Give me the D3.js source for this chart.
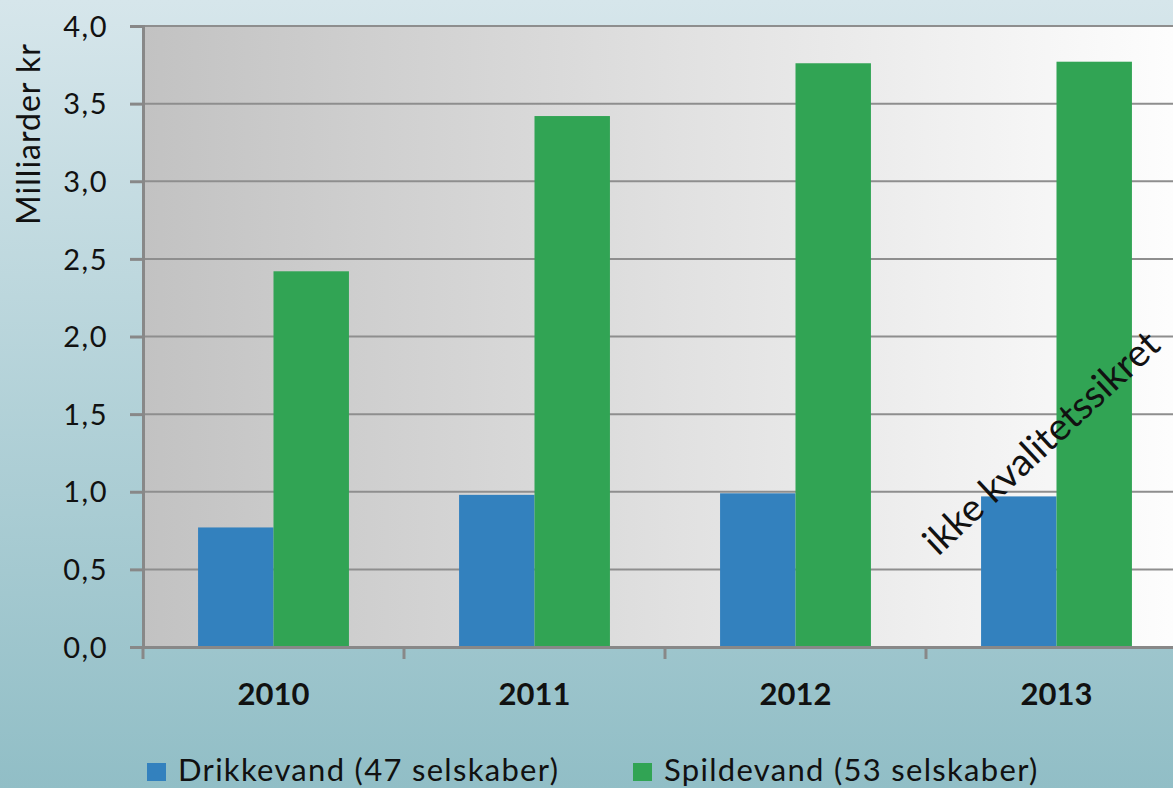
<!DOCTYPE html>
<html>
<head>
<meta charset="utf-8">
<script src="https://cdn.jsdelivr.net/npm/d3@7"></script>
<style>
  body { margin: 0; overflow: hidden; }
  text { font-family: Lato, "Open Sans", sans-serif; }
</style>
</head>
<body>
<svg id="chart" width="1173" height="788"></svg>
<script>
// data
const years = ['2010', '2011', '2012', '2013'];
const drikkevand = [0.77, 0.98, 0.99, 0.97];
const spildevand = [2.42, 3.42, 3.76, 3.77];
const seriesNames = ['Drikkevand (47 selskaber)', 'Spildevand (53 selskaber)'];
const yTicks = [0, 0.5, 1, 1.5, 2, 2.5, 3, 3.5, 4];

const colors = ['#3381be', '#31a454'];
const width = 1173, height = 788;
const margin = { left: 143, top: 26, bottom: 141 };
const plotRight = 1187; // plot runs slightly past the edge of the picture

const svg = d3.select('#chart');
const defs = svg.append('defs');

const bg = defs.append('linearGradient').attr('id', 'bg')
  .attr('x1', 0).attr('y1', 0).attr('x2', 0).attr('y2', 1);
bg.append('stop').attr('offset', '0%').attr('stop-color', '#d6e6eb');
bg.append('stop').attr('offset', '100%').attr('stop-color', '#91bec6');

const plotBg = defs.append('linearGradient').attr('id', 'plotbg')
  .attr('x1', 0).attr('y1', 0).attr('x2', 1).attr('y2', 0);
plotBg.append('stop').attr('offset', '0%').attr('stop-color', '#c2c2c2');
plotBg.append('stop').attr('offset', '100%').attr('stop-color', '#fefefe');

svg.append('rect').attr('width', width).attr('height', height).attr('fill', 'url(#bg)');

const x = d3.scaleBand().domain(years).range([margin.left, plotRight]);
const y = d3.scaleLinear().domain([0, 4]).range([height - margin.bottom, margin.top]);
const inner = d3.scaleBand().domain([0, 1]).range([0, x.bandwidth()]).paddingOuter(0.73).paddingInner(0);

svg.append('rect')
  .attr('x', margin.left).attr('y', y(4))
  .attr('width', plotRight - margin.left).attr('height', y(0) - y(4))
  .attr('fill', 'url(#plotbg)');

// gridlines
svg.append('g').selectAll('line').data(yTicks.filter(d => d > 0)).join('line')
  .attr('x1', margin.left).attr('x2', plotRight)
  .attr('y1', d => y(d)).attr('y2', d => y(d))
  .attr('stroke', '#8e8e8e').attr('stroke-width', 2);

// bars
const data = years.map((yr, i) => ({ yr, vals: [drikkevand[i], spildevand[i]] }));
const groups = svg.append('g').selectAll('g').data(data).join('g')
  .attr('transform', d => `translate(${x(d.yr)},0)`);
groups.selectAll('rect').data(d => d.vals.map((v, k) => ({ v, k }))).join('rect')
  .attr('x', d => inner(d.k))
  .attr('width', inner.bandwidth())
  .attr('y', d => y(d.v))
  .attr('height', d => y(0) - y(d.v))
  .attr('fill', d => colors[d.k]);

// y axis
const yAxis = d3.axisLeft(y).tickValues(yTicks).tickSize(13)
  .tickFormat(d => d3.format('.1f')(d).replace('.', ','));
const gy = svg.append('g').attr('transform', `translate(${margin.left},0)`).call(yAxis);
gy.select('.domain').attr('stroke', '#888').attr('stroke-width', 3);
gy.selectAll('.tick line').attr('stroke', '#888').attr('stroke-width', 3);
gy.selectAll('.tick text').attr('x', -35).attr('dy', '0.35em')
  .attr('font-size', 29).attr('fill', '#111').style('letter-spacing', '1.5px')
  .style('font-family', 'Lato, sans-serif');

// x axis
const xAxis = d3.axisBottom(x).tickSize(0).tickFormat(d => d);
const gx = svg.append('g').attr('transform', `translate(0,${y(0)})`).call(xAxis);
gx.select('.domain').attr('stroke', '#888').attr('stroke-width', 3);
gx.selectAll('.tick text').attr('y', 58).attr('dy', 0)
  .attr('font-size', 31).attr('font-weight', 'bold').attr('fill', '#111')
  .style('font-family', 'Lato, sans-serif');
// category separator ticks
gx.append('g').selectAll('line').data(years.map(d => x(d))).join('line')
  .attr('x1', d => d).attr('x2', d => d).attr('y1', 0).attr('y2', 12)
  .attr('stroke', '#888').attr('stroke-width', 3);

// y title
svg.append('text')
  .attr('transform', 'translate(40,134) rotate(-90)')
  .attr('text-anchor', 'middle')
  .attr('font-size', 32).attr('fill', '#111').style('letter-spacing', '1px')
  .text('Milliarder kr');

// annotation
svg.append('text')
  .attr('transform', `translate(${x('2013') + 12},${y(0.58)}) rotate(-43)`)
  .attr('font-size', 38).attr('fill', '#111')
  .text('ikke kvalitetssikret');

// legend
const legendX = [147, 633];
const leg = svg.append('g').selectAll('g').data(seriesNames).join('g')
  .attr('transform', (d, i) => `translate(${legendX[i]},763)`);
leg.append('rect').attr('width', 19).attr('height', 18).attr('fill', (d, i) => colors[i]);
leg.append('text').attr('x', 31).attr('y', 18)
  .attr('font-size', 31).attr('fill', '#111').style('letter-spacing', '1.3px').text(d => d);
</script>
</body>
</html>
